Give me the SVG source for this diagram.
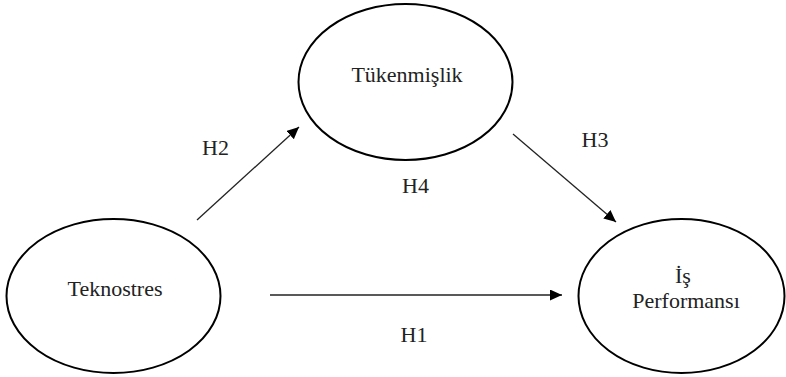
<svg xmlns="http://www.w3.org/2000/svg" width="786" height="377" viewBox="0 0 786 377">
<style>
.node{fill:#fff;stroke:#000;stroke-width:2}
.t{font-family:"Liberation Serif","Times New Roman",serif;font-size:22px;fill:#222;text-anchor:middle}
.c{stroke:#222;stroke-width:1.3;fill:none;marker-end:url(#ah)}
</style>
<defs>
<marker id="ah" markerUnits="userSpaceOnUse" markerWidth="13" markerHeight="12" refX="12" refY="5.5" orient="auto">
<path d="M0,0 L12,5.5 L0,11 z" fill="#000"/>
</marker>
</defs>
<rect width="786" height="377" fill="#fff"/>
<g id="tukenmislik">
<ellipse class="node" cx="405.5" cy="82" rx="107" ry="78"/>
<text class="t" x="407" y="82">Tükenmişlik</text>
</g>
<g id="teknostres">
<ellipse class="node" cx="113.5" cy="296" rx="107" ry="77"/>
<text class="t" x="115" y="296">Teknostres</text>
</g>
<g id="is-performansi">
<ellipse class="node" cx="681.5" cy="296" rx="103" ry="77"/>
<text class="t" x="683" y="283">İş</text>
<text class="t" x="686" y="308">Performansı</text>
</g>
<g id="connectors">
<line class="c" x1="197" y1="220" x2="299" y2="127"/>
<line class="c" x1="513" y1="134" x2="616" y2="222"/>
<line class="c" x1="270" y1="295" x2="562" y2="295"/>
</g>
<g id="labels">
<text class="t" x="215.5" y="155">H2</text>
<text class="t" x="595" y="147">H3</text>
<text class="t" x="415.5" y="193">H4</text>
<text class="t" x="414" y="342">H1</text>
</g>
</svg>
